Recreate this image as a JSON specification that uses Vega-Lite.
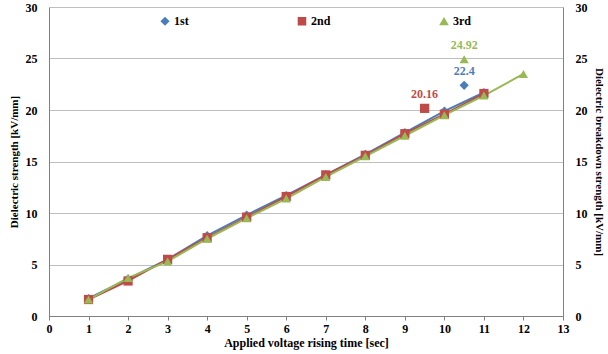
{
  "$schema": "https://vega.github.io/schema/vega-lite/v6.json",
  "width": 514,
  "height": 309,
  "autosize": {"type": "none"},
  "padding": {"left": 49, "top": 7, "right": 45, "bottom": 38},
  "background": "white",
  "config": {
    "font": "Liberation Serif",
    "view": {"stroke": null},
    "axis": {
      "labelFont": "Liberation Serif", "labelFontWeight": "bold", "labelFontSize": 12, "labelColor": "#000",
      "titleFont": "Liberation Serif", "titleFontWeight": "bold", "titleFontSize": 11, "titleColor": "#000",
      "domainColor": "#808080", "tickColor": "#808080", "gridColor": "#BFBFBF"
    },
    "legend": {
      "labelFont": "Liberation Serif", "labelFontWeight": "bold", "labelFontSize": 12, "labelColor": "#000"
    }
  },
  "datasets": {
    "lines": [
      {"series": "1st", "x": 1, "y": 1.7}, {"series": "1st", "x": 2, "y": 3.6}, {"series": "1st", "x": 3, "y": 5.5},
      {"series": "1st", "x": 4, "y": 7.8}, {"series": "1st", "x": 5, "y": 9.8}, {"series": "1st", "x": 6, "y": 11.7},
      {"series": "1st", "x": 7, "y": 13.7}, {"series": "1st", "x": 8, "y": 15.7}, {"series": "1st", "x": 9, "y": 17.8},
      {"series": "1st", "x": 10, "y": 19.9}, {"series": "1st", "x": 11, "y": 21.7},
      {"series": "2nd", "x": 1, "y": 1.6}, {"series": "2nd", "x": 2, "y": 3.4}, {"series": "2nd", "x": 3, "y": 5.5},
      {"series": "2nd", "x": 4, "y": 7.6}, {"series": "2nd", "x": 5, "y": 9.6}, {"series": "2nd", "x": 6, "y": 11.6},
      {"series": "2nd", "x": 7, "y": 13.7}, {"series": "2nd", "x": 8, "y": 15.6}, {"series": "2nd", "x": 9, "y": 17.7},
      {"series": "2nd", "x": 10, "y": 19.6}, {"series": "2nd", "x": 11, "y": 21.6},
      {"series": "3rd", "x": 1, "y": 1.6}, {"series": "3rd", "x": 2, "y": 3.7}, {"series": "3rd", "x": 3, "y": 5.3},
      {"series": "3rd", "x": 4, "y": 7.5}, {"series": "3rd", "x": 5, "y": 9.5}, {"series": "3rd", "x": 6, "y": 11.4},
      {"series": "3rd", "x": 7, "y": 13.5}, {"series": "3rd", "x": 8, "y": 15.5}, {"series": "3rd", "x": 9, "y": 17.5},
      {"series": "3rd", "x": 10, "y": 19.5}, {"series": "3rd", "x": 11, "y": 21.4}, {"series": "3rd", "x": 12, "y": 23.5}
    ],
    "outliers": [
      {"series": "1st", "x": 10.5, "y": 22.4, "label": "22.4"},
      {"series": "2nd", "x": 9.5, "y": 20.16, "label": "20.16"},
      {"series": "3rd", "x": 10.5, "y": 24.92, "label": "24.92"}
    ]
  },
  "encoding": {
    "x": {"field": "x", "type": "quantitative", "scale": {"domain": [0, 13], "nice": false},
          "axis": {"title": "Applied voltage rising time [sec]", "titleFontSize": 12, "values": [0,1,2,3,4,5,6,7,8,9,10,11,12,13], "grid": false, "tickSize": 4, "labelPadding": 3, "titlePadding": 3, "labelOverlap": false, "labelSeparation": 0, "labelBound": false, "labelFlush": false}}
  },
  "layer": [
    {
      "layer": [
        {
          "data": {"name": "lines"},
          "mark": {"type": "line", "strokeWidth": 2},
          "encoding": {
            "y": {"field": "y", "type": "quantitative", "scale": {"domain": [0, 30]},
                  "axis": {"title": "Dielectric strength [kV/mm]", "values": [0,5,10,15,20,25,30], "tickSize": 0, "labelPadding": 12, "titlePadding": 6}},
            "color": {"field": "series", "type": "nominal", "scale": {"domain": ["1st", "2nd", "3rd"], "range": ["#4A7EBB", "#BE4B48", "#98B954"]},
                      "legend": {"title": null, "orient": "none", "direction": "horizontal", "legendX": 110, "legendY": 8, "columnPadding": 106, "symbolSize": 50, "labelOffset": 3}},
            "detail": {"field": "series"}
          }
        },
        {
          "data": {"name": "lines"},
          "mark": {"type": "point", "filled": true, "opacity": 1, "size": 85},
          "encoding": {
            "y": {"field": "y", "type": "quantitative"},
            "color": {"field": "series", "type": "nominal"},
            "shape": {"field": "series", "type": "nominal", "scale": {"domain": ["1st", "2nd", "3rd"], "range": ["diamond", "square", "triangle-up"]}}
          }
        },
        {
          "data": {"name": "outliers"},
          "mark": {"type": "point", "filled": true, "opacity": 1, "size": 85},
          "encoding": {
            "y": {"field": "y", "type": "quantitative"},
            "color": {"field": "series", "type": "nominal"},
            "shape": {"field": "series", "type": "nominal"}
          }
        },
        {
          "data": {"name": "outliers"},
          "mark": {"type": "text", "dy": -14, "fontWeight": "bold", "fontSize": 12, "font": "Liberation Serif"},
          "encoding": {
            "y": {"field": "y", "type": "quantitative"},
            "text": {"field": "label"},
            "color": {"field": "series", "type": "nominal"}
          }
        }
      ]
    },
    {
      "data": {"name": "lines"},
      "mark": {"type": "line", "opacity": 0},
      "encoding": {
        "y": {"field": "y", "type": "quantitative", "scale": {"domain": [0, 30]},
              "axis": {"orient": "right", "title": "Dielectric breakdown strength [kV/mm]", "values": [0,5,10,15,20,25,30], "grid": false, "tickSize": 0, "labelPadding": 12, "titlePadding": 6}},
        "detail": {"field": "series"}
      }
    }
  ],
  "resolve": {"scale": {"y": "independent"}}
}
